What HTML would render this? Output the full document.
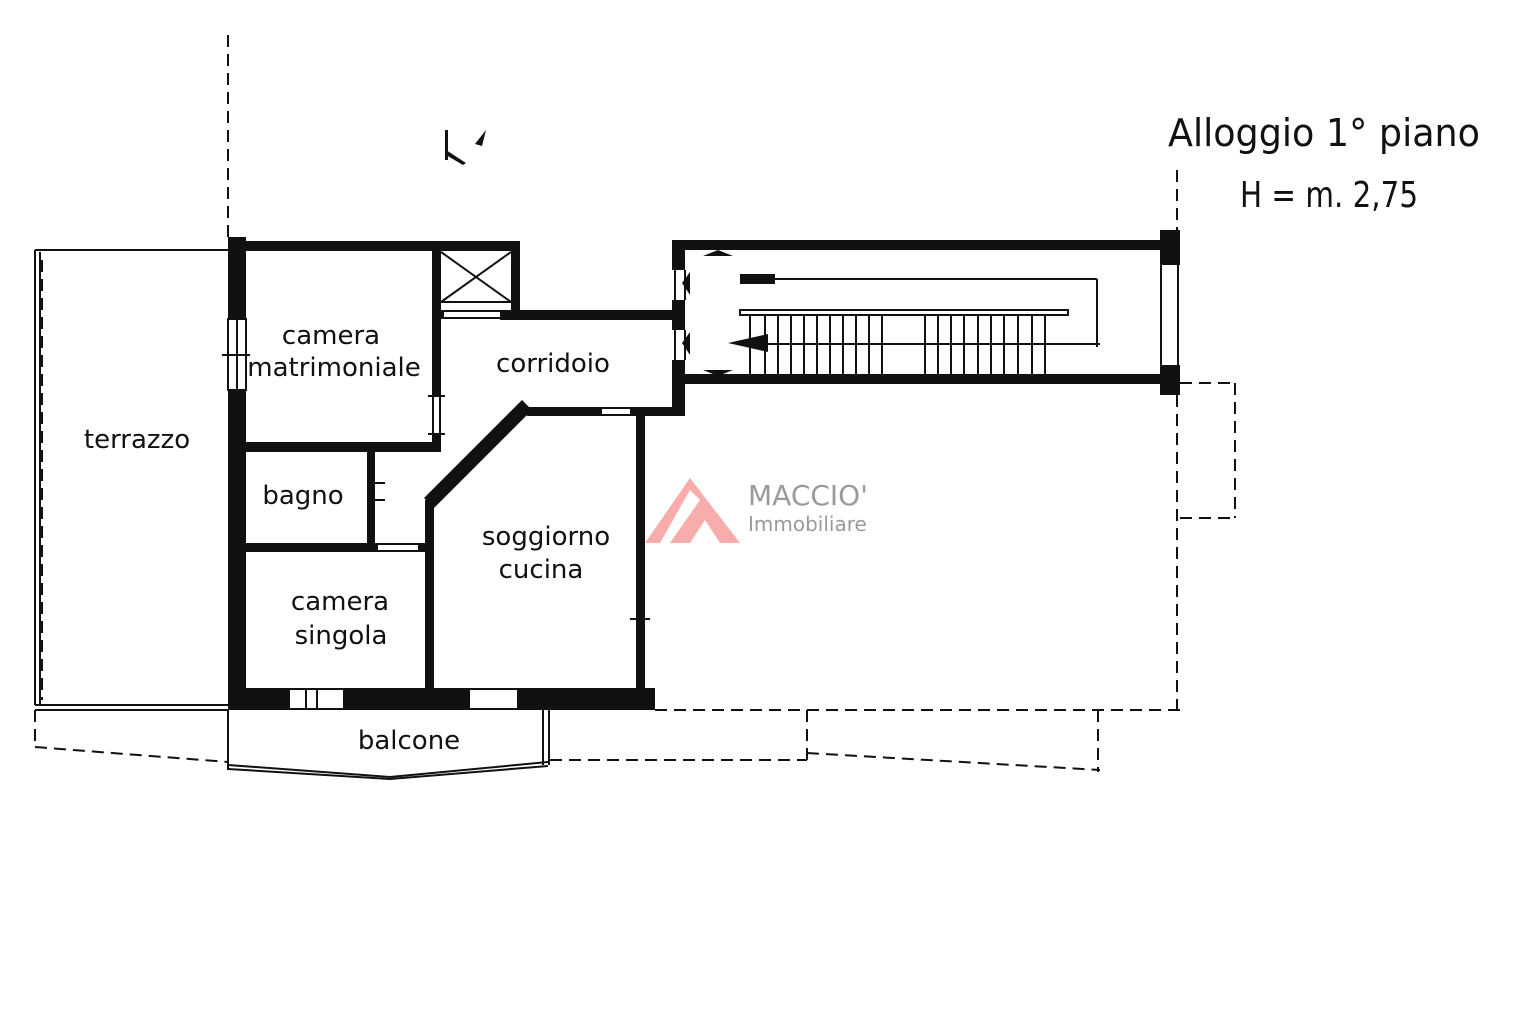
<!DOCTYPE html>
<html><head><meta charset="utf-8"><style>
html,body{margin:0;padding:0;background:#fff}
svg{display:block}
text{font-family:"DejaVu Sans","Liberation Sans",sans-serif;fill:#111}
</style></head><body>
<svg width="1536" height="1024" viewBox="0 0 1536 1024" xmlns="http://www.w3.org/2000/svg">
<rect width="1536" height="1024" fill="#fff"/>
<!-- dashed guide lines -->
<g stroke="#111" stroke-width="2" fill="none" stroke-dasharray="12,7">
<line x1="228" y1="35" x2="228" y2="237"/>
<line x1="42" y1="260" x2="42" y2="700"/>
<line x1="35" y1="710" x2="35" y2="748"/>
<line x1="35" y1="747" x2="228" y2="762"/>
<line x1="655" y1="710" x2="1180" y2="710"/>
<line x1="1177" y1="170" x2="1177" y2="235"/>
<line x1="1177" y1="395" x2="1177" y2="710"/>
<line x1="1180" y1="383" x2="1235" y2="383"/>
<line x1="1235" y1="383" x2="1235" y2="518"/>
<line x1="1180" y1="518" x2="1235" y2="518"/>
<line x1="807" y1="710" x2="807" y2="760"/>
<line x1="550" y1="760" x2="807" y2="760"/>
<line x1="807" y1="753" x2="1100" y2="770"/>
<line x1="1098" y1="710" x2="1098" y2="772"/>
</g>
<!-- terrazzo -->
<g stroke="#111" stroke-width="2" fill="none">
<line x1="35" y1="250" x2="228" y2="250"/>
<line x1="35" y1="250" x2="35" y2="705"/>
<line x1="40" y1="252" x2="40" y2="705"/>
<line x1="35" y1="705" x2="228" y2="705"/>
<line x1="35" y1="710" x2="228" y2="710"/>
<polyline points="228,765 390,777 548,762"/>
<polyline points="228,769 390,779 548,766"/>
<line x1="228" y1="710" x2="228" y2="770"/>
<line x1="543" y1="710" x2="543" y2="765"/>
<line x1="549" y1="710" x2="549" y2="765"/>
</g>
<!-- walls -->
<g fill="#111">
<rect x="228" y="237" width="18" height="82"/>
<rect x="228" y="390" width="18" height="320"/>
<rect x="228" y="241" width="292" height="10"/>
<rect x="432" y="250" width="9" height="145"/>
<rect x="432" y="435" width="9" height="17"/>
<rect x="511" y="241" width="9" height="78"/>
<rect x="432" y="310" width="12" height="9"/>
<rect x="500" y="310" width="185" height="10"/>
<rect x="672" y="240" width="13" height="30"/>
<rect x="675" y="240" width="70" height="10"/>
<rect x="740" y="240" width="440" height="10"/>
<rect x="672" y="300" width="13" height="30"/>
<rect x="672" y="360" width="13" height="55"/>
<rect x="685" y="374" width="495" height="10"/>
<rect x="1160" y="230" width="20" height="35"/>
<rect x="1160" y="365" width="20" height="30"/>
<rect x="228" y="442" width="212" height="10"/>
<rect x="367" y="452" width="8" height="96"/>
<rect x="228" y="543" width="150" height="9"/>
<rect x="418" y="543" width="15" height="9"/>
<rect x="425" y="500" width="9" height="190"/>
<rect x="527" y="407" width="75" height="9"/>
<rect x="630" y="407" width="55" height="9"/>
<rect x="636" y="416" width="9" height="275"/>
<rect x="228" y="688" width="62" height="22"/>
<rect x="343" y="688" width="127" height="22"/>
<rect x="517" y="688" width="138" height="22"/>
<polygon points="522,400 532,410 434,508 424,498"/>
</g>
<!-- windows/door symbols -->
<g stroke="#111" stroke-width="2" fill="none">
<rect x="228" y="319" width="18" height="71"/>
<line x1="237" y1="319" x2="237" y2="390"/>
<line x1="222" y1="355" x2="250" y2="355"/>
<line x1="433" y1="395" x2="433" y2="435"/><line x1="440" y1="395" x2="440" y2="435"/>
<line x1="428" y1="396" x2="445" y2="396"/><line x1="428" y1="434" x2="445" y2="434"/>
<line x1="444" y1="311" x2="500" y2="311"/><line x1="444" y1="318" x2="500" y2="318"/>
<line x1="602" y1="408" x2="630" y2="408"/><line x1="602" y1="415" x2="630" y2="415"/>
<line x1="378" y1="544" x2="418" y2="544"/><line x1="378" y1="551" x2="418" y2="551"/>
<line x1="368" y1="483" x2="385" y2="483"/><line x1="368" y1="500" x2="385" y2="500"/>
<line x1="290" y1="689" x2="343" y2="689"/><line x1="290" y1="709" x2="343" y2="709"/>
<line x1="317" y1="689" x2="317" y2="709"/><line x1="306" y1="689" x2="306" y2="709"/>
<line x1="470" y1="689" x2="517" y2="689"/><line x1="470" y1="709" x2="517" y2="709"/>
<line x1="630" y1="619" x2="650" y2="619"/>
<!-- shaft -->
<line x1="441" y1="252" x2="511" y2="302"/><line x1="511" y1="252" x2="441" y2="302"/>
<line x1="441" y1="302" x2="511" y2="302"/>
<!-- stair window right -->
<line x1="1161" y1="265" x2="1161" y2="365"/><line x1="1178" y1="265" x2="1178" y2="365"/>
<!-- stair door openings left -->
<line x1="675" y1="270" x2="675" y2="300"/><line x1="685" y1="270" x2="685" y2="300"/>
<line x1="675" y1="330" x2="675" y2="360"/><line x1="685" y1="330" x2="685" y2="360"/>
<line x1="695" y1="241" x2="740" y2="241"/><line x1="695" y1="249" x2="740" y2="249"/>
<line x1="695" y1="375" x2="740" y2="375"/><line x1="695" y1="383" x2="740" y2="383"/>
<!-- stairs -->
<line x1="770" y1="279" x2="1097" y2="279"/>
<line x1="1097" y1="279" x2="1097" y2="347"/>
<line x1="740" y1="344" x2="1100" y2="344"/>
<rect x="740" y="310" width="328" height="5"/>
</g>
<g stroke="#111" stroke-width="2">
<line x1="750" y1="315" x2="750" y2="374"/><line x1="765" y1="315" x2="765" y2="374"/>
<line x1="778" y1="315" x2="778" y2="374"/><line x1="791" y1="315" x2="791" y2="374"/>
<line x1="804" y1="315" x2="804" y2="374"/><line x1="817" y1="315" x2="817" y2="374"/>
<line x1="830" y1="315" x2="830" y2="374"/><line x1="843" y1="315" x2="843" y2="374"/>
<line x1="856" y1="315" x2="856" y2="374"/><line x1="869" y1="315" x2="869" y2="374"/>
<line x1="882" y1="315" x2="882" y2="374"/>
<line x1="925" y1="315" x2="925" y2="374"/><line x1="938" y1="315" x2="938" y2="374"/>
<line x1="951" y1="315" x2="951" y2="374"/><line x1="964" y1="315" x2="964" y2="374"/>
<line x1="978" y1="315" x2="978" y2="374"/><line x1="991" y1="315" x2="991" y2="374"/>
<line x1="1004" y1="315" x2="1004" y2="374"/><line x1="1018" y1="315" x2="1018" y2="374"/>
<line x1="1032" y1="315" x2="1032" y2="374"/><line x1="1045" y1="315" x2="1045" y2="374"/>
</g>
<g fill="#111">
<rect x="740" y="274" width="35" height="10"/>
<polygon points="728,343 768,334 768,352"/>
<polygon points="682,283 690,272 690,295"/>
<polygon points="682,343 690,332 690,355"/>
<polygon points="703,256 718,250 733,256"/>
<polygon points="703,370 718,376 733,370"/>
<polygon points="475,144 486,130 482,146"/>
<rect x="445" y="130" width="3" height="30"/>
<polygon points="446,150 466,163 463,165 446,155"/>
</g>
<!-- logo -->
<g fill="#f7a3a3" opacity="0.9">
<polygon points="645,543 690,478 740,543 720,543 705,520 690,543 670,543 700,500 690,490 660,543"/>
</g>
<text x="748" y="505" font-size="28" style="fill:#9a9a9a" font-family="Liberation Sans">MACCIO'</text>
<text x="748" y="531" font-size="20" style="fill:#9a9a9a" font-family="Liberation Sans">Immobiliare</text>
<!-- labels -->
<g font-size="26" text-anchor="middle">
<text x="331" y="344">camera</text>
<text x="334" y="376">matrimoniale</text>
<text x="553" y="372">corridoio</text>
<text x="137" y="448">terrazzo</text>
<text x="303" y="504">bagno</text>
<text x="546" y="545">soggiorno</text>
<text x="541" y="578">cucina</text>
<text x="340" y="610">camera</text>
<text x="341" y="644">singola</text>
<text x="409" y="749">balcone</text>
</g>
<text x="1168" y="146" font-size="38" textLength="312" lengthAdjust="spacingAndGlyphs">Alloggio 1° piano</text>
<text x="1240" y="207" font-size="36" textLength="178" lengthAdjust="spacingAndGlyphs">H = m. 2,75</text>
</svg>
</body></html>
